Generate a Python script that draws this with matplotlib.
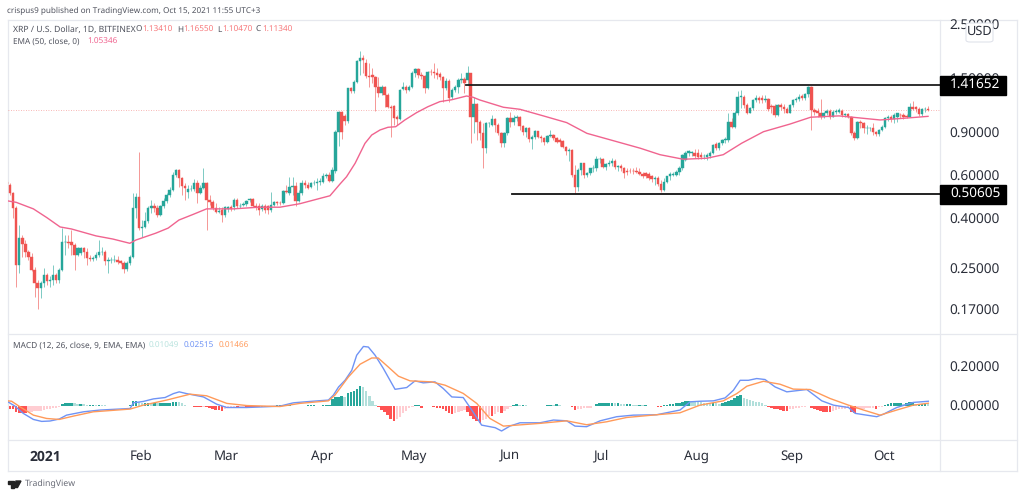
import numpy as np
import pandas as pd
import matplotlib
matplotlib.use('Agg')
import matplotlib.pyplot as plt
from matplotlib.lines import Line2D
from matplotlib.patches import Rectangle, FancyBboxPatch, Polygon
from matplotlib.ticker import FixedLocator, FixedFormatter, NullLocator

plt.rcParams['font.family'] = ['Noto Sans', 'DejaVu Sans']
plt.rcParams['text.hinting'] = 'no_hinting'

W, H = 1024, 496
UP, DOWN = '#26a69a', '#ef5350'

# daily XRPUSD candles: open, high, low, close
rows = [
    (.568,.577,.550,.553),(.550,.559,.501,.508),(.508,.517,.402,.442),(.442,.449,.210,.258),(.258,.377,.239,.334),
    (.334,.343,.279,.315),(.315,.327,.279,.291),(.291,.297,.271,.279),(.279,.288,.243,.247),(.247,.254,.191,.218),
    (.218,.225,.171,.208),(.208,.221,.189,.218),(.218,.250,.210,.235),(.235,.239,.214,.221),(.221,.232,.210,.225),
    (.223,.258,.214,.234),(.234,.239,.218,.224),(.224,.250,.218,.247),(.247,.366,.243,.320),(.320,.343,.284,.322),
    (.322,.343,.302,.317),(.320,.360,.284,.312),(.312,.317,.247,.285),(.285,.307,.282,.302),(.288,.307,.284,.302),
    (.302,.307,.275,.293),(.293,.302,.258,.276),(.276,.284,.267,.273),(.273,.282,.268,.275),(.275,.291,.271,.284),
    (.284,.327,.279,.291),(.291,.307,.284,.293),(.291,.297,.258,.267),(.267,.279,.239,.270),(.270,.279,.262,.271),
    (.270,.284,.265,.271),(.271,.282,.260,.265),(.267,.271,.260,.264),(.264,.268,.239,.249),(.249,.267,.244,.262),
    (.262,.284,.258,.279),(.279,.508,.276,.442),(.442,.508,.402,.490),(.490,.754,.360,.368),(.368,.395,.337,.370),
    (.370,.428,.366,.392),(.392,.453,.383,.442),(.442,.477,.421,.449),(.449,.463,.428,.442),(.442,.456,.408,.415),
    (.415,.456,.412,.449),(.449,.485,.442,.473),(.473,.508,.463,.501),(.501,.542,.493,.525),(.525,.620,.520,.605),
    (.605,.640,.595,.634),(.634,.640,.542,.590),(.590,.595,.501,.547),(.547,.559,.477,.533),(.517,.550,.485,.530),
    (.530,.550,.520,.531),(.530,.583,.520,.559),(.559,.577,.463,.508),(.508,.550,.503,.537),(.537,.644,.530,.559),
    (.559,.564,.360,.477),(.477,.501,.456,.467),(.467,.477,.435,.442),(.442,.463,.421,.428),(.428,.445,.421,.431),
    (.435,.445,.389,.415),(.415,.449,.408,.445),(.438,.449,.428,.445),(.445,.456,.431,.438),(.445,.485,.435,.477),
    (.477,.488,.442,.449),(.449,.463,.442,.453),(.456,.467,.449,.458),(.458,.477,.453,.473),(.477,.488,.470,.482),
    (.482,.488,.445,.453),(.453,.463,.435,.445),(.453,.463,.415,.435),(.439,.458,.431,.453),(.453,.458,.421,.435),
    (.449,.456,.417,.435),(.435,.517,.428,.456),(.456,.473,.449,.467),(.467,.473,.456,.463),(.465,.473,.456,.463),
    (.463,.525,.458,.520),(.520,.550,.508,.517),(.508,.595,.501,.542),(.542,.595,.501,.547),(.547,.568,.449,.473),
    (.473,.525,.467,.508),(.508,.577,.501,.559),(.559,.577,.537,.550),(.550,.564,.530,.537),(.542,.568,.533,.559),
    (.559,.577,.550,.562),(.562,.586,.525,.568),(.568,.586,.550,.569),(.568,.614,.559,.601),(.601,.614,.586,.605),
    (.605,.624,.564,.571),(.571,.655,.564,.634),(.630,.922,.618,.912),(.912,1.112,.795,1.101),(1.101,1.112,.850,.912),
    (1.058,1.078,.971,1.009),(1.009,1.382,.993,1.373),(1.373,1.395,1.310,1.343),(1.343,1.486,1.318,1.463),(1.463,1.789,1.440,1.780),
    (1.780,1.958,1.558,1.824),(1.824,1.885,1.582,1.789),(1.749,1.805,1.512,1.543),(1.543,1.739,1.395,1.533),(1.558,1.660,1.440,1.533),
    (1.533,1.543,1.112,1.395),(1.395,1.523,1.269,1.310),(1.310,1.417,1.290,1.386),(1.386,1.405,1.155,1.290),(1.290,1.310,1.137,1.155),
    (1.155,1.173,.869,1.144),(1.163,1.173,.971,1.034),(1.051,1.067,.971,1.025),(1.025,1.360,1.018,1.352),(1.360,1.463,1.352,1.395),
    (1.395,1.417,1.318,1.352),(1.352,1.417,1.343,1.395),(1.395,1.623,1.373,1.592),(1.592,1.660,1.533,1.644),(1.644,1.660,1.512,1.558),
    (1.558,1.607,1.496,1.543),(1.543,1.558,1.310,1.382),(1.382,1.623,1.360,1.607),(1.607,1.644,1.558,1.597),(1.597,1.749,1.512,1.582),
    (1.582,1.660,1.496,1.558),(1.568,1.607,1.486,1.533),(1.533,1.543,1.211,1.382),(1.382,1.509,1.352,1.477),(1.477,1.496,1.211,1.250),
    (1.261,1.373,1.238,1.352),(1.352,1.417,1.330,1.395),(1.395,1.509,1.310,1.486),(1.486,1.592,1.440,1.496),(1.496,1.523,1.310,1.440),
    (1.486,1.695,1.417,1.592),(1.582,1.592,.821,1.051),(1.051,1.269,.897,1.181),(1.181,1.192,.842,1.002),(1.002,1.018,.842,.897),
    (.902,.986,.644,.783),(.783,1.002,.747,.986),(.986,1.002,.949,.993),(.971,1.067,.961,1.025),(1.025,1.034,.912,.971),
    (.971,.986,.883,.897),(.897,.912,.790,.821),(.821,.912,.785,.897),(.897,1.045,.883,1.034),(1.034,1.101,.949,1.002),
    (1.002,1.067,.971,1.034),(1.034,1.067,1.012,1.045),(1.045,1.058,.926,.961),(.961,.971,.883,.912),(.912,.949,.869,.941),
    (.941,.949,.829,.850),(.850,.883,.775,.869),(.869,.926,.848,.917),(.917,.920,.856,.869),(.869,.883,.829,.856),
    (.856,.869,.803,.829),(.829,.883,.816,.878),(.878,.926,.865,.883),(.883,.892,.842,.861),(.861,.869,.816,.829),
    (.842,.856,.795,.829),(.834,.842,.778,.790),(.790,.795,.730,.759),(.759,.778,.692,.766),(.766,.770,.596,.606),
    (.606,.664,.508,.542),(.542,.644,.519,.634),(.634,.675,.606,.675),(.675,.679,.587,.606),(.606,.624,.592,.615),
    (.615,.644,.606,.644),(.644,.664,.624,.645),(.644,.725,.630,.701),(.701,.714,.679,.702),(.701,.708,.644,.654),
    (.654,.679,.634,.669),(.669,.697,.658,.679),(.679,.708,.658,.692),(.692,.701,.638,.654),(.654,.664,.630,.658),
    (.658,.671,.630,.644),(.644,.650,.587,.615),(.630,.644,.606,.624),(.630,.644,.615,.628),(.630,.644,.611,.626),
    (.630,.650,.615,.624),(.624,.644,.606,.611),(.612,.623,.587,.597),(.616,.623,.587,.597),(.612,.623,.578,.587),
    (.597,.606,.567,.581),(.581,.601,.551,.587),(.587,.597,.546,.554),(.554,.578,.513,.526),(.526,.587,.518,.567),
    (.567,.601,.560,.597),(.597,.620,.578,.612),(.606,.623,.597,.613),(.606,.632,.597,.620),(.620,.656,.606,.645),
    (.645,.740,.636,.733),(.698,.756,.688,.744),(.744,.767,.721,.756),(.744,.762,.721,.749),(.744,.770,.710,.721),
    (.744,.770,.702,.717),(.733,.749,.702,.717),(.721,.740,.702,.722),(.717,.744,.694,.733),(.726,.756,.710,.744),
    (.744,.812,.740,.805),(.812,.830,.767,.779),(.779,.830,.767,.817),(.817,.854,.805,.840),(.840,.870,.822,.854),
    (.846,1.085,.830,1.003),(1.003,1.035,.942,.956),(.956,1.112,.942,1.092),(1.092,1.344,1.068,1.269),(1.269,1.352,1.137,1.278),
    (1.269,1.290,1.137,1.173),(1.173,1.192,1.078,1.092),(1.092,1.155,1.085,1.137),(1.137,1.238,1.119,1.230),(1.230,1.290,1.211,1.257),
    (1.257,1.278,1.200,1.230),(1.249,1.290,1.192,1.230),(1.230,1.290,1.211,1.242),(1.242,1.249,1.112,1.126),(1.162,1.184,1.085,1.155),
    (1.162,1.184,1.051,1.068),(1.068,1.184,1.058,1.173),(1.173,1.192,1.119,1.148),(1.148,1.184,1.085,1.126),(1.126,1.155,1.085,1.092),
    (1.092,1.184,1.085,1.173),(1.173,1.238,1.155,1.230),(1.230,1.269,1.211,1.242),(1.242,1.302,1.222,1.269),(1.278,1.302,1.230,1.249),
    (1.249,1.310,1.230,1.298),(1.298,1.403,1.269,1.385),(1.385,1.403,.927,1.119),(1.119,1.137,1.068,1.102),(1.109,1.137,1.051,1.085),
    (1.092,1.238,1.025,1.045),(1.045,1.102,1.035,1.085),(1.085,1.126,1.068,1.109),(1.109,1.126,1.025,1.051),(1.051,1.119,1.045,1.102),
    (1.102,1.126,1.078,1.112),(1.102,1.137,1.085,1.119),(1.112,1.126,1.051,1.068),(1.068,1.092,1.051,1.078),(1.078,1.092,1.035,1.051),
    (1.051,1.058,.884,.903),(.903,.921,.846,.862),(.862,1.010,.854,1.003),(1.003,1.018,.942,.993),(.993,1.003,.903,.942),
    (.942,.971,.892,.943),(.942,.956,.915,.943),(.942,.987,.884,.906),(.906,.921,.875,.889),(.889,.933,.875,.927),
    (.927,.971,.915,.956),(.956,1.051,.942,1.041),(1.041,1.068,1.010,1.045),(1.045,1.068,1.003,1.025),(1.032,1.085,.993,1.068),
    (1.045,1.092,1.003,1.085),(1.068,1.092,1.035,1.065),(1.068,1.085,1.025,1.051),(1.058,1.078,1.035,1.051),(1.051,1.200,1.045,1.155),
    (1.155,1.222,1.119,1.130),(1.148,1.162,1.102,1.126),(1.126,1.148,1.058,1.078),(1.078,1.137,1.058,1.126),(1.126,1.148,1.102,1.133),
    (1.1341,1.1655,1.1047,1.1134),
]
df = pd.DataFrame(rows, columns=['open', 'high', 'low', 'close'])
df['date'] = pd.date_range(end='2021-10-15', periods=len(df))

# EMA 50, read at the bends of the line (candle number, price)
ema = [(0,.474),(3,.467),(8.6,.439),(13,.404),(17.3,.370),(21,.363),(29,.340),(34.5,.330),(40,.317),(42,.327),
       (48.5,.349),(52.5,.366),(56,.395),(60.7,.417),(65,.439),(73.7,.439),(82,.446),(88.9,.446),(95.4,.461),(102,.485),
       (105.2,.497),(108.5,.556),(110.6,.595),(113.4,.676),(116.6,.816),(118.8,.883),(121.5,.926),(124.1,.950),(126.6,.955),
       (129.6,1.018),(133.4,1.091),(137.1,1.154),(141,1.211),(144.9,1.233),(149.7,1.277),(151.8,1.262),(154,1.230),
       (161.7,1.148),(167.1,1.126),(174.7,1.058),(182.3,.993),(188.9,.897),(197.6,.836),(206.3,.779),(212.7,.733),
       (220.3,.702),(228,.709),(233.3,.733),(239.3,.817),(246.4,.911),(255,.979),(261.8,1.045),(271,1.058),(284.4,1.018),
       (291.9,1.034),(300,1.05346)]

macd = [(.3,.022),(2.6,0),(5.3,-.037),(8.6,-.068),(11.3,-.078),(14,-.076),(17,-.066),(19.4,-.046),(24.9,-.029),(30.3,-.020),
        (40.1,-.012),(41.2,.017),(44.4,.024),(47.7,.037),(51.5,.044),(54.2,.064),(56.1,.073),(58.5,.064),(64,.047),(68.3,.010),
        (71.6,-.007),(78.1,-.007),(84.6,-.003),(88.9,0),(93.3,.017),(98.7,.024),(104.7,.031),(106.3,.056),(108,.098),
        (110.1,.132),(112.3,.183),(113.9,.260),(116.1,.305),(117.7,.302),(119.9,.260),(122.6,.192),(126.4,.086),(130.2,.095),
        (132.9,.129),(135.6,.119),(139.4,.124),(142.1,.090),(144.9,.047),(148.6,.044),(151.4,-.020),(154.6,-.097),(159,-.110),
        (161.1,-.127),(163.8,-.102),(167.1,-.085),(173.6,-.085),(178,-.071),(182.3,-.075),(185,-.102),(188.8,-.105),(193.2,-.075),
        (198.6,-.054),(204,-.046),(211.6,-.044),(219.2,-.020),(222.5,.022),(225.7,.025),(230.1,.027),(233.9,.042),(236.6,.081),
        (238.8,.132),(241.5,.132),(244.2,.141),(246.9,.136),(250.2,.098),(254,.073),(260.5,.085),(265.4,.027),(269.2,.005),
        (274.1,-.007),(276.3,-.037),(283.3,-.054),(285.5,-.041),(289.8,-.007),(295.2,.019),(300.1,.025)]

signal = [(.3,.027),(1.5,.025),(4.2,-.003),(8.6,-.046),(12.9,-.063),(17,-.068),(21.6,-.051),(28.1,-.029),(40.1,-.015),(44.4,.005),
          (52,.031),(59.6,.061),(65,.053),(71.6,.014),(78.1,.003),(88.9,-.002),(95.4,.014),(104.7,.027),(106.8,.056),(111.2,.149),
          (115,.214),(118.8,.246),(120.9,.246),(124.2,.200),(127.5,.153),(131.3,.129),(138.3,.124),(142.7,.107),(148.6,.065),
          (153,.014),(157.3,-.063),(161.7,-.102),(166,-.097),(173.6,-.088),(182.3,-.075),(188.8,-.095),(195.3,-.080),(201.8,-.058),
          (211.6,-.044),(219.2,-.034),(225.7,.005),(233.3,.027),(237.7,.064),(241,.102),(246.4,.127),(251.8,.112),(256.1,.087),
          (261.6,.085),(268.1,.039),(274.1,.005),(279,-.020),(284.4,-.046),(289.8,-.020),(295.2,.005),(300.1,.015)]

# histogram in thousandths, one per candle
hist = [-14,-17,-17,-31,-34,-34,-34,-31,-29,-27,-25,-24,-20,-17,-15,-12,-7,-3,
        10,14,15,17,15,12,12,10,8,8,8,7,8,7,5,3,3,3,3,3,3,3,
        5,24,25,20,17,17,17,15,17,14,14,14,15,17,20,22,20,14,8,3,2,
        -3,-5,-5,-3,-5,-10,-17,-19,-22,-24,-14,-8,-7,-5,-5,-3,-2,-2,-2,-2,-2,-2,-2,-2,-2,
        2,3,5,5,7,5,5,3,3,3,3,3,5,5,5,3,3,5,5,8,37,47,
        48,51,47,68,71,76,90,102,98,76,51,25,8,
        -5,-20,-31,-47,-64,-78,-68,-54,-37,-24,-12,-3,
        5,8,-8,3,3,3,-5,-8,-12,-17,-24,-34,-41,-34,-31,-27,-22,-31,-51,-64,-76,-85,-71,-64,-51,-51,-42,-31,-34,-25,-14,-5,
        7,10,8,8,5,3,3,3,3,3,3,7,8,7,10,7,3,3,2,
        -5,-22,-17,-14,-12,-10,-7,3,12,14,15,15,15,17,14,14,12,10,10,10,8,7,7,5,5,3,3,3,-3,-5,5,8,10,12,14,15,
        20,24,27,25,24,22,20,17,15,14,17,14,10,15,20,24,31,42,51,56,41,34,31,27,22,19,14,5,
        -3,-12,-14,-17,-22,-24,-24,-17,-14,-8,-7,-5,-2,3,-10,-17,-22,-27,-31,-31,-31,-24,-20,-17,-15,-14,-12,
        -31,-34,-17,-15,-14,-12,-10,-8,-14,-3,-2,8,12,15,15,17,17,12,14,20,20,12,12,12,12,10]
df['hist'] = np.array(hist) / 1000


def px_box(left, top, right, bottom):
    return [left / W, 1 - bottom / H, (right - left) / W, (bottom - top) / H]


def fig_text(x, y, s, **kw):
    kw.setdefault('va', 'center')
    return fig.text(x / W, 1 - y / H, s, **kw)


fig = plt.figure(figsize=(W / 100, H / 100), dpi=100)
ax = fig.add_axes(px_box(8, 20, 940, 334))
ax2 = fig.add_axes(px_box(8, 334.5, 940, 440))

x = df.index.values
xlim = (0.33, 303.9)

# candles
col = np.where(df['close'] >= df['open'], UP, DOWN)
ax.vlines(x, df['low'], df['high'], colors=col, linewidth=0.7, alpha=0.6, zorder=2)
ax.bar(x, (df['close'] - df['open']).abs(), bottom=df[['open', 'close']].min(axis=1),
       width=0.8, color=col, edgecolor=col, linewidth=0.3, zorder=3)
ax.plot(*zip(*ema), color='#f0648f', linewidth=1.0, zorder=4)
ax.axhline(df['close'].iloc[-1], color='#ef5350', linewidth=0.6, linestyle=(0, (1, 2)), alpha=0.55, zorder=1)

# drawn levels
ax.plot([149.5, xlim[1]], [1.41652, 1.41652], color='#1c1c1c', linewidth=1.3, zorder=5)
ax.plot([164.5, xlim[1]], [0.50605, 0.50605], color='#111111', linewidth=1.3, zorder=5)

ax.set_yscale('log')
ax.set_xlim(xlim)
ax.set_ylim(0.1344, 2.621)
ax.yaxis.tick_right()
ticks = [2.5, 1.5, 0.9, 0.6, 0.4, 0.25, 0.17]
ax.yaxis.set_major_locator(FixedLocator(ticks))
ax.yaxis.set_major_formatter(FixedFormatter(['%.5f' % t for t in ticks]))
ax.yaxis.set_minor_locator(NullLocator())
ax.tick_params(axis='y', length=0, pad=7, labelsize=9.8, labelcolor='#2a2e39')
ax.set_xticks([])

# macd panel
prev = df['hist'].shift(1).fillna(df['hist'])
hcol = np.where(df['hist'] >= 0,
                np.where(df['hist'] >= prev, '#26a69a', '#b2dfdb'),
                np.where(df['hist'] <= prev, '#ff5252', '#ffcdd2'))
ax2.bar(x, df['hist'], width=0.82, color=hcol, zorder=2)
ax2.plot(*zip(*macd), color='#6f93f5', linewidth=1.0, zorder=3)
ax2.plot(*zip(*signal), color='#ff9a5a', linewidth=1.0, zorder=4)
ax2.set_xlim(xlim)
ax2.set_ylim(-0.173, 0.366)
ax2.yaxis.tick_right()
ax2.set_yticks([0.2, 0.0])
ax2.set_yticklabels(['0.20000', '0.00000'])
ax2.tick_params(axis='y', length=0, pad=7, labelsize=9.8, labelcolor='#2a2e39')

# month labels along the bottom
months = pd.date_range('2021-01-01', '2021-10-01', freq='MS')
locs = [df.index[df['date'] == m][0] - 0.5 for m in months]
ax2.set_xticks(locs)
ax2.set_xticklabels(['2021'] + [m.strftime('%b') for m in months[1:]])
ax2.tick_params(axis='x', length=0, pad=7, labelsize=9.6, labelcolor='#2a2e39')
year_label = ax2.get_xticklabels()[0]
year_label.set_fontfamily('Open Sans')
year_label.set_fontweight('bold')
year_label.set_fontsize(10)

for a in (ax, ax2):
    for s in a.spines.values():
        s.set_visible(False)
    a.patch.set_alpha(0)

# frame
frame = '#e6e8ee'
for x0, y0, x1, y1 in [(7.5, 20, 1017, 20), (7.5, 334, 1017, 334), (7.5, 440, 1017, 440), (7.5, 471, 1017, 471),
                       (7.5, 20, 7.5, 471), (1017, 20, 1017, 471), (940, 20, 940, 471)]:
    fig.add_artist(Line2D([x0 / W, x1 / W], [1 - y0 / H, 1 - y1 / H], color=frame, linewidth=0.9, zorder=0))

# price boxes on the axis
for top, label in [(76, '1.41652'), (185, '0.50605')]:
    fig.add_artist(Rectangle((940 / W, 1 - (top + 19) / H), 66 / W, 19 / H, color='#000000', zorder=5))
    fig_text(950, top + 9.5, label, color='white', fontsize=9.8, zorder=6)

fig.add_artist(FancyBboxPatch((966 / W, 1 - 42 / H), 27 / W, 19 / H, boxstyle='round,pad=0,rounding_size=0.004',
                              facecolor='white', edgecolor='#e0e3eb', linewidth=0.8, zorder=5))
fig_text(979.5, 32, 'USD', color='#2a2e39', fontsize=9.2, ha='center', zorder=6)

# header and legends
grey = '#50535e'
size = 5.9
fig_text(7, 11, 'crispus9 published on TradingView.com, Oct 15, 2021 11:55 UTC+3', color=grey, fontsize=5.85)
fig_text(13, 30, 'XRP / U.S. Dollar, 1D, BITFINEX', color=grey, fontsize=6.2)
red = '#f7777a'
for xl, xv, key, val in [(136, 142, 'O', '1.13410'), (177, 183, 'H', '1.16550'),
                         (217, 222, 'L', '1.10470'), (256, 262, 'C', '1.11340')]:
    fig_text(xl, 30, key, color=grey, fontsize=size)
    fig_text(xv, 30, val, color=red, fontsize=size)
fig_text(13, 42, 'EMA (50, close, 0)', color=grey, fontsize=5.9)
fig_text(87, 42, '1.05346', color='#f0648f', fontsize=size)
fig_text(13, 346, 'MACD (12, 26, close, 9, EMA, EMA)', color=grey, fontsize=6.0)
fig_text(149, 346, '0.01049', color='#b9e3de', fontsize=size)
fig_text(184, 346, '0.02515', color='#6f93f5', fontsize=size)
fig_text(219, 346, '0.01466', color='#ff9a5a', fontsize=size)

# TradingView mark
logo = '#222222'
fig.add_artist(Rectangle((7.5 / W, 1 - 483.5 / H), 6 / W, 2.5 / H, color=logo))
fig.add_artist(Rectangle((10.5 / W, 1 - 487.5 / H), 3 / W, 6 / H, color=logo))
fig.add_artist(Polygon([(16 / W, 1 - 481 / H), (21 / W, 1 - 481 / H), (17.5 / W, 1 - 487.5 / H), (14.5 / W, 1 - 487.5 / H)],
                       color=logo))
fig_text(24.5, 484, 'TradingView', color='#6a6d78', fontsize=6.3)

fig.savefig('out.png', dpi=100, facecolor='white')
